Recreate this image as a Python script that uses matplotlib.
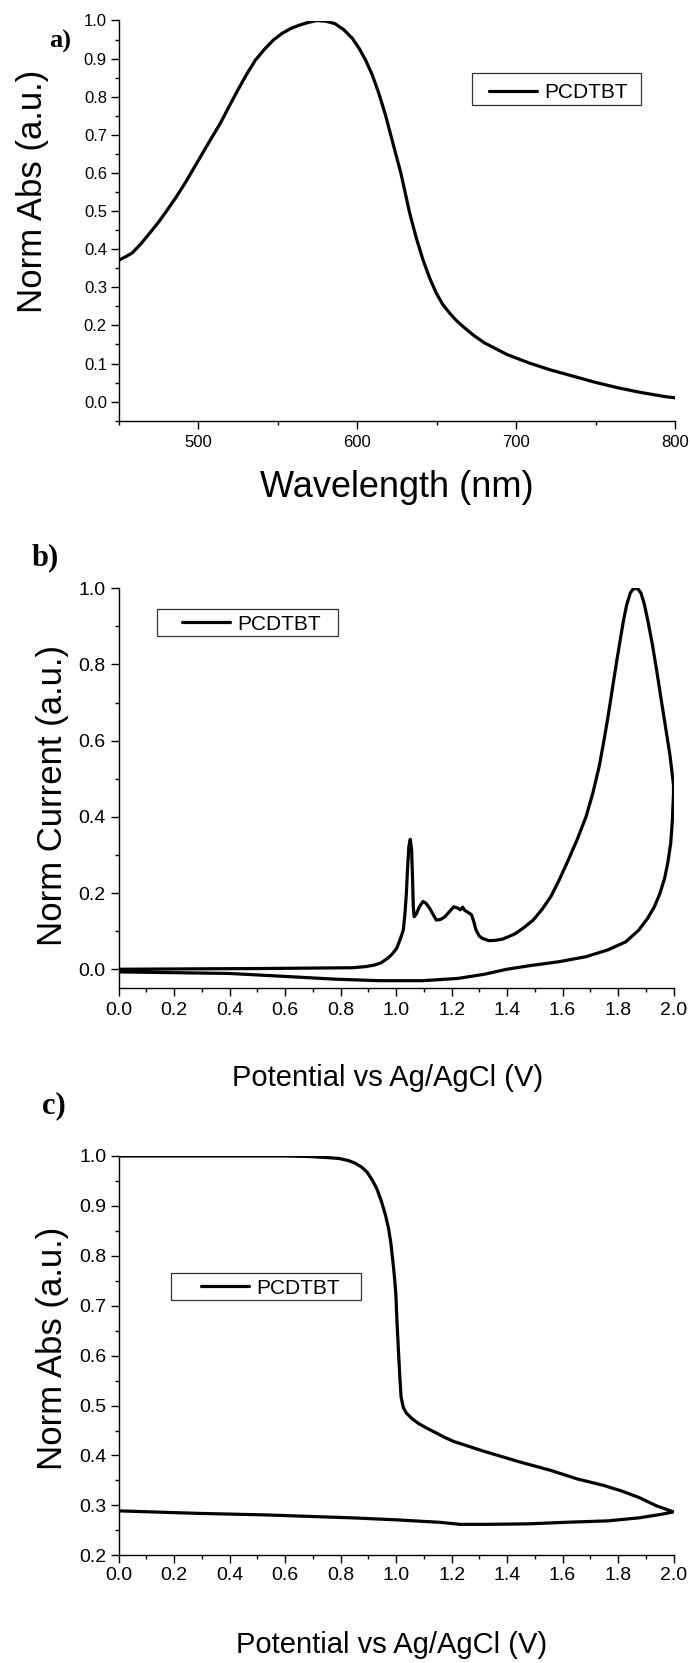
import matplotlib
matplotlib.use("Agg")
import matplotlib.pyplot as plt
from matplotlib.ticker import MultipleLocator
from matplotlib.patches import Rectangle

plt.rcParams["font.family"] = ["Liberation Sans", "DejaVu Sans"]

# ---- (a) UV-vis absorption of the polymer film ----
wavelength = [450.0, 454.2, 458.4, 463.9, 469.4, 475.0, 480.5, 486.1, 491.6, 497.1,
              502.7, 508.2, 513.8, 519.3, 524.9, 530.4, 535.9, 541.5, 547.0, 552.6,
              558.1, 563.7, 569.2, 574.7, 580.3, 585.8, 591.4, 596.9, 601.1, 605.2,
              609.4, 613.5, 617.7, 621.8, 627.4, 632.9, 637.1, 641.2, 645.4, 649.6,
              653.7, 657.9, 662.0, 666.2, 673.1, 680.0, 687.0, 693.9, 707.7, 721.6,
              735.5, 749.3, 763.2, 777.0, 785.4, 793.7, 800.0]
norm_abs = [0.371, 0.380, 0.390, 0.414, 0.442, 0.471, 0.503, 0.537, 0.573, 0.612,
            0.652, 0.691, 0.730, 0.774, 0.818, 0.859, 0.896, 0.924, 0.948, 0.966,
            0.979, 0.988, 0.995, 1.000, 0.998, 0.992, 0.976, 0.953, 0.927, 0.896,
            0.857, 0.809, 0.752, 0.687, 0.599, 0.495, 0.429, 0.373, 0.325, 0.285,
            0.255, 0.233, 0.214, 0.198, 0.174, 0.154, 0.139, 0.124, 0.102, 0.083,
            0.067, 0.051, 0.037, 0.025, 0.019, 0.013, 0.010]

# ---- (b) cyclic voltammogram (forward then reverse sweep) ----
cv_potential = [0.0, 0.525, 0.843, 0.891, 0.922, 0.946, 0.970, 0.986, 1.002, 1.014,
                1.026, 1.032, 1.037, 1.041, 1.046, 1.051, 1.056, 1.059, 1.062, 1.065,
                1.073, 1.084, 1.097, 1.108, 1.121, 1.134, 1.145, 1.161, 1.176, 1.192,
                1.208, 1.224, 1.232, 1.240, 1.248, 1.256, 1.272, 1.280, 1.288, 1.300,
                1.311, 1.335, 1.359, 1.383, 1.407, 1.431, 1.462, 1.494, 1.526, 1.558,
                1.589, 1.621, 1.653, 1.685, 1.709, 1.732, 1.748, 1.764, 1.780, 1.796,
                1.809, 1.820, 1.831, 1.844, 1.853, 1.863, 1.872, 1.883, 1.894, 1.907,
                1.923, 1.939, 1.955, 1.971, 1.987, 2.0,
                2.0, 1.996, 1.990, 1.980, 1.968, 1.951, 1.931, 1.907, 1.875, 1.828,
                1.764, 1.685, 1.589, 1.478, 1.399, 1.319, 1.224, 1.097, 0.938, 0.779,
                0.605, 0.398, 0.2, 0.0]
cv_current = [0.000, 0.002, 0.004, 0.007, 0.011, 0.017, 0.029, 0.040, 0.055, 0.077,
              0.103, 0.147, 0.199, 0.261, 0.322, 0.341, 0.313, 0.243, 0.164, 0.138,
              0.145, 0.164, 0.178, 0.173, 0.160, 0.143, 0.129, 0.131, 0.138, 0.151,
              0.164, 0.160, 0.156, 0.163, 0.154, 0.151, 0.143, 0.125, 0.103, 0.087,
              0.081, 0.075, 0.076, 0.079, 0.086, 0.094, 0.110, 0.129, 0.157, 0.191,
              0.236, 0.287, 0.341, 0.401, 0.462, 0.532, 0.595, 0.663, 0.738, 0.812,
              0.869, 0.917, 0.956, 0.987, 0.997, 1.000, 0.998, 0.987, 0.961, 0.917,
              0.856, 0.786, 0.711, 0.637, 0.563, 0.484,
              0.462, 0.392, 0.331, 0.282, 0.239, 0.199, 0.164, 0.134, 0.103, 0.072,
              0.051, 0.033, 0.020, 0.009, 0.000, -0.013, -0.024, -0.030, -0.030,
              -0.026, -0.019, -0.011, -0.009, -0.007]

# ---- (c) absorbance versus applied potential ----
sp_potential = [0.0, 0.366, 0.605, 0.684, 0.748, 0.795, 0.827, 0.851, 0.875, 0.895,
                0.914, 0.930, 0.946, 0.962, 0.973, 0.981, 0.989, 0.994, 0.999, 1.003,
                1.008, 1.013, 1.018, 1.026, 1.037, 1.057, 1.081, 1.113, 1.145, 1.176,
                1.208, 1.319, 1.446, 1.558, 1.653, 1.748, 1.812, 1.875, 1.939, 2.0,
                1.955, 1.875, 1.764, 1.605, 1.478, 1.319, 1.23, 1.160, 1.002, 0.843,
                0.684, 0.525, 0.287, 0.0]
sp_abs = [1.000, 1.000, 1.000, 0.999, 0.997, 0.995, 0.991, 0.986, 0.978, 0.968,
          0.952, 0.935, 0.911, 0.881, 0.854, 0.826, 0.786, 0.758, 0.724, 0.670,
          0.615, 0.561, 0.517, 0.496, 0.485, 0.474, 0.464, 0.454, 0.445, 0.436,
          0.428, 0.408, 0.387, 0.370, 0.353, 0.340, 0.329, 0.316, 0.299, 0.287,
          0.282, 0.275, 0.269, 0.266, 0.263, 0.262, 0.262, 0.266, 0.271, 0.275,
          0.278, 0.281, 0.284, 0.289]

series_name = "PCDTBT"

W, H = 690, 1663
fig = plt.figure(figsize=(W / 100, H / 100), dpi=100)


def fx(px):
    return px / W


def fy(py):
    return 1 - py / H


def axes_px(left, top, right, bottom):
    return fig.add_axes([fx(left), fy(bottom), (right - left) / W, (bottom - top) / H])


def style_axes(ax, tick_size, xpad, ypad):
    for side in ("top", "right"):
        ax.spines[side].set_visible(False)
    for side in ("left", "bottom"):
        ax.spines[side].set_linewidth(1.0)
    ax.tick_params(which="major", direction="out", length=6, width=1.0,
                   labelsize=tick_size)
    ax.tick_params(which="minor", direction="out", length=3, width=1.0)
    ax.tick_params(axis="x", which="major", pad=xpad)
    ax.tick_params(axis="y", which="major", pad=ypad)


def add_legend(ax, line, hx, hy, box):
    ax.legend([line], [series_name], loc="center left",
              bbox_to_anchor=(fx(hx), fy(hy)), bbox_transform=fig.transFigure,
              frameon=False, borderpad=0, borderaxespad=0,
              handlelength=2.3, handletextpad=0.33, fontsize=15)
    x0, y0, x1, y1 = box
    fig.add_artist(Rectangle((fx(x0), fy(y1)), (x1 - x0) / W, (y1 - y0) / H,
                             transform=fig.transFigure, fill=False,
                             edgecolor="#333333", linewidth=0.9))


def place_labels(ax, xl_center, xl_base, yl_base, yl_center):
    ax.xaxis.set_label_coords(fx(xl_center), fy(xl_base), transform=fig.transFigure)
    ax.xaxis.label.set_verticalalignment("baseline")
    ax.yaxis.set_label_coords(fx(yl_base), fy(yl_center), transform=fig.transFigure)
    ax.yaxis.label.set_verticalalignment("baseline")
    ax.yaxis.label.set_horizontalalignment("center")
    ax.yaxis.label.set_rotation_mode("anchor")


LW = 2.3

# panel a
ax_a = axes_px(118.8, 20.5, 675.4, 420.7)
la, = ax_a.plot(wavelength, norm_abs, color="black", lw=LW,
                solid_joinstyle="round", solid_capstyle="round")
ax_a.set_xlim(450, 800)
ax_a.set_ylim(-0.05, 1.0)
ax_a.xaxis.set_major_locator(MultipleLocator(100))
ax_a.xaxis.set_minor_locator(MultipleLocator(50))
ax_a.yaxis.set_major_locator(MultipleLocator(0.1))
ax_a.yaxis.set_minor_locator(MultipleLocator(0.05))
ax_a.yaxis.set_major_formatter(lambda v, p: f"{v:.1f}")
style_axes(ax_a, 12, 4.5, 2.5)
ax_a.set_xlabel("Wavelength (nm)", fontsize=26)
ax_a.set_ylabel("Norm Abs (a.u.)", fontsize=25)
place_labels(ax_a, 397, 497, 42, 191)
add_legend(ax_a, la, 489, 93, (472, 72.7, 641, 105.3))
fig.text(fx(49), fy(48), "a)", family="Liberation Serif", weight="bold", fontsize=19)

# panel b
ax_b = axes_px(118.7, 588.3, 673.5, 988.3)
lb, = ax_b.plot(cv_potential, cv_current, color="black", lw=LW,
                solid_joinstyle="round", solid_capstyle="round")
ax_b.set_xlim(0, 2.0)
ax_b.set_ylim(-0.05, 1.0)
ax_b.xaxis.set_major_locator(MultipleLocator(0.2))
ax_b.xaxis.set_minor_locator(MultipleLocator(0.1))
ax_b.yaxis.set_major_locator(MultipleLocator(0.2))
ax_b.yaxis.set_minor_locator(MultipleLocator(0.1))
ax_b.xaxis.set_major_formatter(lambda v, p: f"{v:.1f}")
ax_b.yaxis.set_major_formatter(lambda v, p: f"{v:.1f}")
style_axes(ax_b, 14, 4, 3.5)
ax_b.set_xlabel("Potential vs Ag/AgCl (V)", fontsize=21)
ax_b.set_ylabel("Norm Current (a.u.)", fontsize=25)
place_labels(ax_b, 388, 1086, 62, 795)
add_legend(ax_b, lb, 182, 624, (156.7, 609.3, 337.7, 636.3))
fig.text(fx(32), fy(565), "b)", family="Liberation Serif", weight="bold", fontsize=22)

# panel c
ax_c = axes_px(118.7, 1156, 673.5, 1555.3)
lc, = ax_c.plot(sp_potential, sp_abs, color="black", lw=LW,
                solid_joinstyle="round", solid_capstyle="round")
ax_c.set_xlim(0, 2.0)
ax_c.set_ylim(0.2, 1.0)
ax_c.xaxis.set_major_locator(MultipleLocator(0.2))
ax_c.xaxis.set_minor_locator(MultipleLocator(0.1))
ax_c.yaxis.set_major_locator(MultipleLocator(0.1))
ax_c.yaxis.set_minor_locator(MultipleLocator(0.05))
ax_c.xaxis.set_major_formatter(lambda v, p: f"{v:.1f}")
ax_c.yaxis.set_major_formatter(lambda v, p: f"{v:.1f}")
style_axes(ax_c, 14, 2.5, 3)
ax_c.set_xlabel("Potential vs Ag/AgCl (V)", fontsize=21)
ax_c.set_ylabel("Norm Abs (a.u.)", fontsize=25)
place_labels(ax_c, 392, 1653, 62, 1348)
add_legend(ax_c, lc, 201, 1288, (171, 1273.3, 361, 1300))
fig.text(fx(42), fy(1113), "c)", family="Liberation Serif", weight="bold", fontsize=22)

fig.savefig("out.png", dpi=100)
